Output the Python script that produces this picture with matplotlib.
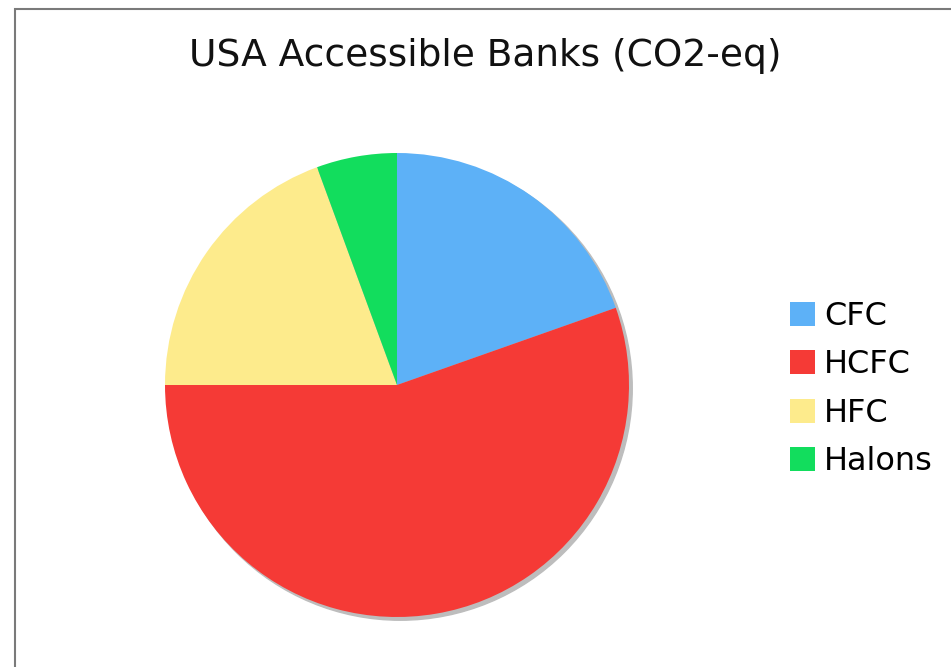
import matplotlib.pyplot as plt
from matplotlib.patches import Circle, Rectangle

# ── Data ────────────────────────────────────────────────────────────────────────
labels = ["CFC", "HCFC", "HFC", "Halons"]
shares = [19.6, 55.4, 19.4, 5.6]
colors = ["#5DB1F7", "#F53A36", "#FDEB8C", "#12DD5D"]

W, H = 951, 667
fig = plt.figure(figsize=(W / 100, H / 100), dpi=100)

# grey frame of the original screenshot (only left + top visible)
fig.patches.append(Rectangle((15 / W, -0.1), 1.2, 1.1 - 9 / H, transform=fig.transFigure,
                             fill=False, edgecolor="#7a7a7a", linewidth=1.5))

# pie axes placed by pixel centre/radius
cx, cy, r = 397, 385, 232
ax = fig.add_axes([(cx - r) / W, (H - cy - r) / H, 2 * r / W, 2 * r / H])
ax.axis("off")

wedges, _ = ax.pie(shares, colors=colors, startangle=90, counterclock=False,
                   radius=1.0, wedgeprops=dict(linewidth=0))

# soft shadow
ax.add_patch(Circle((0.014, -0.014), 1.0, color="#bdbdbd", zorder=0, clip_on=False))

ax.set_xlim(-1.0, 1.0)
ax.set_ylim(-1.0, 1.0)
ax.set_aspect("equal")

fig.text(485 / W, 1 - 56 / H, "USA Accessible Banks (CO2-eq)",
         ha="center", va="center", fontsize=27, color="#111111")

fig.legend(wedges, labels, loc="center left", bbox_to_anchor=(774 / W, 1 - 389 / H),
           frameon=False, fontsize=23, borderpad=0, labelspacing=0.55,
           handlelength=0.78, handleheight=0.78, handletextpad=0.28)

plt.savefig("out.png", dpi=100)
plt.close()
print("Saved chart to out.png")
